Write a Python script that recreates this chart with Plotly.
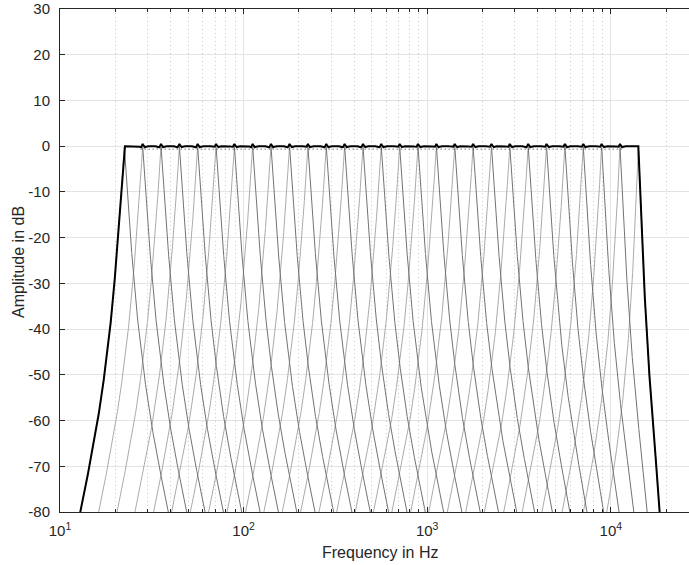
import numpy as np
import plotly.graph_objects as go

# ---- data ----
# band centre frequencies (Hz) of the filter bank
centers_hz = [22.4, 28.2, 35.5, 44.7, 56.2, 70.8, 89.1, 112, 141, 178, 224, 282,
              355, 447, 562, 708, 891, 1122, 1413, 1778, 2239, 2818, 3548, 4467,
              5623, 7079, 8913, 11220, 14125]
# skirt profile of one band: distance from centre (decades) -> level (dB)
profile_dec = [0.0, 0.016, 0.034, 0.052, 0.078, 0.105, 0.145, 0.19, 0.24, 0.29, 0.35]
profile_db = [0.0, -10, -20, -29, -40, -49, -60, -70, -80, -90, -102]
# sample rate implied by the compression of the top bands (Hz)
fs_warp = 54000
# ripple of the summed response over one band spacing: offset (decades) -> dB
ripple_dec = [-0.05, -0.02, -0.009, 0.0, 0.009, 0.02, 0.05]
ripple_db = [0.05, -0.05, -0.25, 0.5, -0.25, -0.05, 0.05]
# dotted reference line
dotted_level_db = -0.65
dotted_span_hz = [27.5, 11500]

y_ticks = [30, 20, 10, 0, -10, -20, -30, -40, -50, -60, -70, -80]
y_ticktext = ["30", "20", "10", "0", "-10", "-20", "-30", "-40", "-50", "-60", "-70", "-80"]
x_tickvals = [10, 100, 1000, 10000]
x_ticktext = ["10<sup>1</sup>", "10<sup>2</sup>", "10<sup>3</sup>", "10<sup>4</sup>"]

# ---- geometry of the plot area (pixels) ----
W, H = 689, 565
L, R, T, B = 60, 689, 9, 512
dec_px = 183.6
x_lo = 1.0
x_hi = x_lo + (R - L) / dec_px


def pchip(xk, yk, x):
    xk = np.asarray(xk, float)
    yk = np.asarray(yk, float)
    h = np.diff(xk)
    delta = np.diff(yk) / h
    n = len(xk)
    m = np.zeros(n)
    for k in range(1, n - 1):
        if delta[k - 1] * delta[k] > 0:
            w1 = 2 * h[k] + h[k - 1]
            w2 = h[k] + 2 * h[k - 1]
            m[k] = (w1 + w2) / (w1 / delta[k - 1] + w2 / delta[k])
    m[0] = delta[0]
    m[-1] = delta[-1]
    x = np.asarray(x, float)
    out = np.full(x.shape, np.nan)
    idx = np.clip(np.searchsorted(xk, x) - 1, 0, n - 2)
    inside = (x >= xk[0]) & (x <= xk[-1])
    i = idx[inside]
    t = (x[inside] - xk[i]) / h[i]
    h00 = 2 * t**3 - 3 * t**2 + 1
    h10 = t**3 - 2 * t**2 + t
    h01 = -2 * t**3 + 3 * t**2
    h11 = t**3 - t**2
    out[inside] = h00 * yk[i] + h10 * h[i] * m[i] + h01 * yk[i + 1] + h11 * h[i] * m[i + 1]
    return out


lf = np.arange(0.95, min(x_hi + 0.01, np.log10(fs_warp / 2) - 0.0005), 0.0005)
f = 10 ** lf
wf = np.log10(np.tan(np.pi * f / fs_warp))


def band_db(fc):
    wc = np.log10(np.tan(np.pi * fc / fs_warp))
    d = np.abs(wf - wc)
    return pchip(profile_dec, profile_db, d)


rise_x, rise_y, fall_x, fall_y = [], [], [], []
for fc in centers_hz:
    db = band_db(fc)
    ok = np.isfinite(db)
    m1 = ok & (f <= fc)
    m2 = ok & (f >= fc)
    rise_x += list(f[m1]) + [None]
    rise_y += list(db[m1]) + [None]
    fall_x += list(f[m2]) + [None]
    fall_y += list(db[m2]) + [None]

# summed response
c_log = np.log10(centers_hz)
first_db = band_db(centers_hz[0])
last_db = band_db(centers_hz[-1])
sum_db = np.full_like(lf, np.nan)
for i, x in enumerate(lf):
    if x < c_log[0]:
        sum_db[i] = first_db[i]
    elif x > c_log[-1]:
        sum_db[i] = last_db[i]
    else:
        k = np.argmin(np.abs(c_log - x))
        if k == 0 or k == len(c_log) - 1:
            sum_db[i] = 0.0
        else:
            sum_db[i] = np.interp(x - c_log[k], ripple_dec, ripple_db)

fig = go.Figure()
fig.add_trace(go.Scatter(x=rise_x, y=rise_y, mode="lines",
                         line=dict(color="#ababab", width=1), hoverinfo="skip",
                         showlegend=False))
fig.add_trace(go.Scatter(x=fall_x, y=fall_y, mode="lines",
                         line=dict(color="#737373", width=1), hoverinfo="skip",
                         showlegend=False))
fig.add_trace(go.Scatter(x=dotted_span_hz, y=[dotted_level_db] * 2, mode="lines",
                         line=dict(color="#333333", width=1, dash="1px,3px"),
                         hoverinfo="skip", showlegend=False))
fig.add_trace(go.Scatter(x=f, y=sum_db, mode="lines",
                         line=dict(color="#000000", width=2), hoverinfo="skip",
                         showlegend=False))

axis_col = "#262626"
fam = "Liberation Sans, Arial, sans-serif"
fnt = dict(family=fam, size=15, color=axis_col)

fig.update_layout(
    width=W, height=H,
    margin=dict(l=L, r=W - R, t=T, b=H - B),
    paper_bgcolor="white", plot_bgcolor="white",
    font=fnt,
    xaxis=dict(
        type="log", range=[x_lo, x_hi],
        tickvals=x_tickvals, ticktext=x_ticktext,
        ticks="inside", ticklen=5, tickcolor=axis_col, tickwidth=1,
        showline=True, linecolor=axis_col, linewidth=1, mirror="allticks",
        showgrid=True, gridcolor="#e3e3e3", gridwidth=1,
        zeroline=False, tickfont=fnt, ticklabelstandoff=5,
        minor=dict(dtick="D1", ticks="inside", ticklen=3, tickcolor=axis_col,
                   showgrid=True, gridcolor="#cccccc", griddash="1px,3px", gridwidth=1),
    ),
    yaxis=dict(
        range=[-80, 30], tickvals=y_ticks, ticktext=y_ticktext,
        ticks="inside", ticklen=5, tickcolor=axis_col, tickwidth=1,
        showline=True, linecolor=axis_col, linewidth=1,
        showgrid=True, gridcolor="#e3e3e3", gridwidth=1,
        zeroline=False, tickfont=fnt, ticklabelstandoff=6,
    ),
    annotations=[
        dict(text="Frequency in Hz", xref="paper", yref="paper",
             x=(380 - L) / (R - L), y=(B - 552) / (B - T),
             xanchor="center", yanchor="middle", showarrow=False,
             font=dict(family=fam, size=16, color=axis_col)),
        dict(text="Amplitude in dB", xref="paper", yref="paper",
             x=(18 - L) / (R - L), y=(B - 262) / (B - T), textangle=-90,
             xanchor="center", yanchor="middle", showarrow=False,
             font=dict(family=fam, size=16, color=axis_col)),
    ],
)

fig.write_html("out.html")
